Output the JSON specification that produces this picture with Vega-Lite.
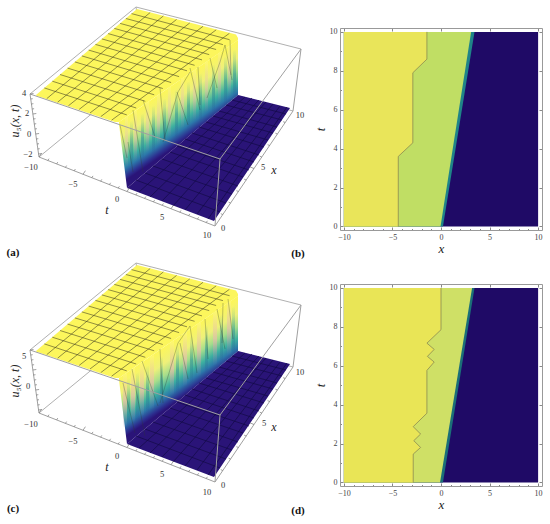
{
"$schema":"https://vega.github.io/schema/vega-lite/v6.json",
"padding":0,
"background":"white",
"config":{"view":{"stroke":null},"text":{"font":"Liberation Serif"},"axis":{"labelFont":"Liberation Serif","titleFont":"Liberation Serif"}},
"datasets":{
"boxBack":[{"x":30,"y":94,"x2":136,"y2":7},{"x":136,"y":7,"x2":301,"y2":49},{"x":39,"y":157,"x2":145,"y2":70},{"x":145,"y":70,"x2":293,"y2":111},{"x":136,"y":7,"x2":145,"y2":70}],
"boxFront":[{"x":30,"y":94,"x2":220,"y2":159},{"x":220,"y":159,"x2":301,"y2":49},{"x":220,"y":159,"x2":215,"y2":226},{"x":39,"y":157,"x2":215,"y2":226},{"x":215,"y":226,"x2":293,"y2":111},{"x":293,"y":111,"x2":301,"y2":49},{"x":30,"y":94,"x2":39,"y2":157}],
"ticks":[{"x":39,"y":157,"x2":41.4,"y2":153.4},{"x":47.8,"y":160.5,"x2":49,"y2":158.7},{"x":56.6,"y":163.9,"x2":57.8,"y2":162.1},{"x":65.4,"y":167.4,"x2":66.6,"y2":165.6},{"x":74.2,"y":170.8,"x2":75.4,"y2":169},{"x":83,"y":174.3,"x2":85.4,"y2":170.7},{"x":91.8,"y":177.7,"x2":93,"y2":175.9},{"x":100.6,"y":181.2,"x2":101.8,"y2":179.4},{"x":109.4,"y":184.6,"x2":110.6,"y2":182.8},{"x":118.2,"y":188.1,"x2":119.4,"y2":186.3},{"x":127,"y":191.5,"x2":129.4,"y2":187.9},{"x":135.8,"y":195,"x2":137,"y2":193.2},{"x":144.6,"y":198.4,"x2":145.8,"y2":196.6},{"x":153.4,"y":201.9,"x2":154.6,"y2":200.1},{"x":162.2,"y":205.3,"x2":163.4,"y2":203.5},{"x":171,"y":208.8,"x2":173.4,"y2":205.2},{"x":179.8,"y":212.2,"x2":181,"y2":210.4},{"x":188.6,"y":215.7,"x2":189.8,"y2":213.9},{"x":197.4,"y":219.1,"x2":198.6,"y2":217.3},{"x":206.2,"y":222.6,"x2":207.4,"y2":220.8},{"x":222.8,"y":214.5,"x2":220.8,"y2":213.7},{"x":230.6,"y":203,"x2":228.6,"y2":202.2},{"x":238.4,"y":191.5,"x2":236.4,"y2":190.7},{"x":246.2,"y":180,"x2":244.2,"y2":179.2},{"x":254,"y":168.5,"x2":250,"y2":166.9},{"x":261.8,"y":157,"x2":259.8,"y2":156.2},{"x":269.6,"y":145.5,"x2":267.6,"y2":144.7},{"x":277.4,"y":134,"x2":275.4,"y2":133.2},{"x":285.2,"y":122.5,"x2":283.2,"y2":121.7},{"x":30,"y":94,"x2":33.5,"y2":93.5},{"x":30.7,"y":99,"x2":32.7,"y2":98.7},{"x":31.4,"y":104,"x2":33.4,"y2":103.7},{"x":32.1,"y":109,"x2":34.1,"y2":108.7},{"x":32.8,"y":114,"x2":36.3,"y2":113.5},{"x":33.5,"y":119,"x2":35.5,"y2":118.7},{"x":34.2,"y":124,"x2":36.2,"y2":123.7},{"x":34.9,"y":129,"x2":36.9,"y2":128.7},{"x":35.6,"y":134,"x2":39.1,"y2":133.5},{"x":36.3,"y":139,"x2":38.3,"y2":138.7},{"x":37,"y":144,"x2":39,"y2":143.7},{"x":37.7,"y":149,"x2":39.7,"y2":148.7},{"x":38.4,"y":154,"x2":41.9,"y2":153.5}],
"top":[{"x":36,"y":95,"y2":95.5},{"x":115,"y":27.7,"y2":122},{"x":119,"y":24.3,"y2":122},{"x":137,"y":9,"y2":109.6},{"x":236,"y":34.5,"y2":41.4},{"x":238,"y":38,"y2":40}],
"floor":[{"x":127,"y":188,"y2":188},{"x":214,"y":115.1,"y2":221},{"x":238,"y":95,"y2":185.3},{"x":290,"y":108,"y2":108}],
"wall":[{"x":119,"y":122,"y2":124},{"x":127,"y":116.5,"y2":188},{"x":238,"y":40,"y2":95}],
"meshTop":[{"x":44.3,"y":87.9,"x2":126.8,"y2":114.9},{"x":52.3,"y":81.2,"x2":136.2,"y2":108},{"x":60,"y":74.5,"x2":145.3,"y2":101.3},{"x":67.6,"y":68.1,"x2":154.2,"y2":94.8},{"x":74.9,"y":61.9,"x2":162.8,"y2":88.5},{"x":81.9,"y":55.9,"x2":171.1,"y2":82.5},{"x":88.7,"y":50.1,"x2":179.1,"y2":76.6},{"x":95.4,"y":44.4,"x2":187,"y2":70.8},{"x":101.9,"y":38.9,"x2":194.6,"y2":65.3},{"x":108.1,"y":33.6,"x2":202,"y2":59.9},{"x":114.3,"y":28.4,"x2":209.2,"y2":54.6},{"x":120.1,"y":23.4,"x2":216.1,"y2":49.5},{"x":125.9,"y":18.5,"x2":222.9,"y2":44.6},{"x":131.5,"y":13.6,"x2":229.6,"y2":39.7},{"x":46.8,"y":98.6,"x2":150.2,"y2":12.5},{"x":57.6,"y":102.2,"x2":163.4,"y2":15.9},{"x":68.4,"y":105.8,"x2":176.6,"y2":19.4},{"x":79.2,"y":109.4,"x2":189.8,"y2":22.9},{"x":90,"y":113,"x2":203,"y2":26.3},{"x":100.8,"y":116.6,"x2":216.2,"y2":29.8},{"x":111.6,"y":120.2,"x2":229.4,"y2":33.3}],
"meshFloor":[{"x":136,"y":180,"x2":220,"y2":212},{"x":145,"y":173,"x2":226,"y2":203},{"x":153,"y":166,"x2":232,"y2":194},{"x":162,"y":159,"x2":238,"y2":186},{"x":170,"y":152,"x2":243,"y2":177},{"x":177,"y":146,"x2":249,"y2":170},{"x":185,"y":139,"x2":254,"y2":162},{"x":192,"y":133,"x2":259,"y2":155},{"x":199,"y":127,"x2":264,"y2":147},{"x":206,"y":122,"x2":268,"y2":140},{"x":213,"y":116,"x2":273,"y2":133},{"x":219,"y":111,"x2":277,"y2":127},{"x":226,"y":105,"x2":282,"y2":120},{"x":232,"y":100,"x2":286,"y2":114},{"x":139,"y":192,"x2":245,"y2":97},{"x":150,"y":197,"x2":252,"y2":98},{"x":162,"y":201,"x2":259,"y2":100},{"x":173,"y":206,"x2":266,"y2":102},{"x":185,"y":210,"x2":273,"y2":104},{"x":197,"y":214,"x2":280,"y2":106},{"x":208,"y":219,"x2":287,"y2":107}],
"paleA":[{"s":1,"x":125,"y":118,"y2":168},{"s":1,"x":128,"y":116,"y2":166},{"s":2,"x":134,"y":112,"y2":162},{"s":2,"x":137,"y":110,"y2":160},{"s":3,"x":146,"y":103,"y2":153},{"s":3,"x":149,"y":101,"y2":151},{"s":4,"x":157,"y":96,"y2":146},{"s":4,"x":160,"y":94,"y2":144},{"s":5,"x":168,"y":88,"y2":138},{"s":5,"x":171,"y":86,"y2":136},{"s":6,"x":181,"y":79,"y2":129},{"s":6,"x":184,"y":77,"y2":127},{"s":7,"x":193,"y":71,"y2":121},{"s":7,"x":196,"y":69,"y2":119},{"s":8,"x":205,"y":63,"y2":113},{"s":8,"x":208,"y":61,"y2":111},{"s":9,"x":218,"y":54,"y2":104},{"s":9,"x":221,"y":52,"y2":102},{"s":10,"x":228,"y":47,"y2":97},{"s":10,"x":231,"y":45,"y2":95}],
"darkA":[{"s":1,"x":130,"y":122,"y2":170},{"s":1,"x":133,"y":120,"y2":168},{"s":2,"x":141,"y":115,"y2":163},{"s":2,"x":144,"y":113,"y2":161},{"s":3,"x":152,"y":107,"y2":155},{"s":3,"x":155,"y":105,"y2":153},{"s":4,"x":163,"y":100,"y2":148},{"s":4,"x":166,"y":98,"y2":146},{"s":5,"x":175,"y":91,"y2":139},{"s":5,"x":178,"y":89,"y2":137},{"s":6,"x":187,"y":83,"y2":131},{"s":6,"x":190,"y":81,"y2":129},{"s":7,"x":199,"y":75,"y2":123},{"s":7,"x":202,"y":73,"y2":121},{"s":8,"x":212,"y":66,"y2":114},{"s":8,"x":215,"y":64,"y2":112},{"s":9,"x":224,"y":58,"y2":106},{"s":9,"x":227,"y":56,"y2":104},{"s":10,"x":233,"y":51,"y2":99},{"s":10,"x":236,"y":49,"y2":97}],
"paleC":[{"s":1,"x":123,"y":119,"y2":172},{"s":1,"x":127,"y":117,"y2":170},{"s":2,"x":131,"y":114,"y2":167},{"s":2,"x":135,"y":112,"y2":165},{"s":3,"x":140,"y":108,"y2":161},{"s":3,"x":144,"y":106,"y2":159},{"s":4,"x":150,"y":101,"y2":154},{"s":4,"x":154,"y":99,"y2":152},{"s":5,"x":170,"y":87,"y2":140},{"s":5,"x":174,"y":85,"y2":138},{"s":6,"x":183,"y":78,"y2":131},{"s":6,"x":187,"y":76,"y2":129},{"s":7,"x":197,"y":68,"y2":121},{"s":7,"x":201,"y":66,"y2":119},{"s":8,"x":213,"y":57,"y2":110},{"s":8,"x":217,"y":55,"y2":108},{"s":9,"x":227,"y":47,"y2":100},{"s":9,"x":231,"y":45,"y2":98}],
"darkC":[{"s":1,"x":127,"y":124,"y2":172},{"s":1,"x":130,"y":122,"y2":170},{"s":2,"x":136,"y":118,"y2":166},{"s":2,"x":139,"y":116,"y2":164},{"s":3,"x":146,"y":111,"y2":159},{"s":3,"x":149,"y":109,"y2":157},{"s":4,"x":160,"y":102,"y2":150},{"s":4,"x":163,"y":100,"y2":148},{"s":5,"x":176,"y":91,"y2":139},{"s":5,"x":179,"y":89,"y2":137},{"s":6,"x":190,"y":81,"y2":129},{"s":6,"x":193,"y":79,"y2":127},{"s":7,"x":205,"y":71,"y2":119},{"s":7,"x":208,"y":69,"y2":117},{"s":8,"x":220,"y":60,"y2":108},{"s":8,"x":223,"y":58,"y2":106},{"s":9,"x":232,"y":52,"y2":100},{"s":9,"x":235,"y":50,"y2":98}],
"linesA":[{"x":133,"y":110,"x2":143,"y2":172},{"x":128,"y":142,"x2":133,"y2":172},{"x":120,"y":125,"x2":127,"y2":158},{"x":143,"y":100,"x2":155,"y2":137},{"x":160,"y":88,"x2":165,"y2":140},{"x":163,"y":142,"x2":178,"y2":92},{"x":178,"y":92,"x2":190,"y2":72},{"x":177,"y":92,"x2":188,"y2":125},{"x":190,"y":68,"x2":200,"y2":110},{"x":198,"y":67,"x2":200,"y2":105},{"x":207,"y":98,"x2":220,"y2":62},{"x":220,"y":62,"x2":225,"y2":45},{"x":210,"y":58,"x2":217,"y2":88},{"x":225,"y":45,"x2":232,"y2":80},{"x":230,"y":40,"x2":231,"y2":75}],
"linesC":[{"x":132,"y":113,"x2":145,"y2":180},{"x":123,"y":127,"x2":135,"y2":177},{"x":142,"y":105,"x2":158,"y2":150},{"x":160,"y":93,"x2":163,"y2":147},{"x":160,"y":147,"x2":178,"y2":87},{"x":178,"y":87,"x2":190,"y2":70},{"x":180,"y":87,"x2":188,"y2":123},{"x":190,"y":70,"x2":197,"y2":117},{"x":205,"y":63,"x2":208,"y2":103},{"x":217,"y":53,"x2":225,"y2":93},{"x":223,"y":47,"x2":222,"y2":87},{"x":228,"y":43,"x2":233,"y2":83}],
"labA":[{"x":24,"y":93,"t":"4"},{"x":27,"y":113,"t":"2"},{"x":29,"y":134,"t":"0"},{"x":28,"y":154,"t":"−2"},{"x":31,"y":167,"t":"−10"},{"x":73,"y":184,"t":"−5"},{"x":117,"y":199,"t":"0"},{"x":162,"y":217,"t":"5"},{"x":207,"y":235,"t":"10"},{"x":223,"y":228,"t":"0"},{"x":263,"y":167,"t":"5"},{"x":300,"y":115,"t":"10"}],
"labC":[{"x":24,"y":100,"t":"5"},{"x":28,"y":130,"t":"0"},{"x":31,"y":168,"t":"−10"},{"x":73,"y":185,"t":"−5"},{"x":117,"y":200,"t":"0"},{"x":162,"y":218,"t":"5"},{"x":207,"y":236,"t":"10"},{"x":223,"y":229,"t":"0"},{"x":264,"y":167,"t":"5"},{"x":300,"y":116,"t":"10"}],
"vars":[{"x":107,"y":210,"t":"t"},{"x":274,"y":170,"t":"x"}],
"fullR":[{"t":0,"a":-10,"b":10},{"t":10,"a":-10,"b":10}],
"tealR":[{"t":0,"a":-10,"b":0.2},{"t":10,"a":-10,"b":3.45}],
"greenB":[{"t":0,"a":-10,"b":-0.05},{"t":10,"a":-10,"b":3.1}],
"greenD":[{"t":0,"a":-10,"b":-0.1},{"t":10,"a":-10,"b":3.2}],
"yellowB":[{"t":0,"a":-10,"b":-4.4},{"t":3.6,"a":-10,"b":-4.4},{"t":4.3,"a":-10,"b":-2.9},{"t":7.9,"a":-10,"b":-2.9},{"t":8.6,"a":-10,"b":-1.45},{"t":10,"a":-10,"b":-1.45}],
"yellowD":[{"t":0,"a":-10,"b":-2.86},{"t":1.46,"a":-10,"b":-2.86},{"t":1.8,"a":-10,"b":-2.1},{"t":2.15,"a":-10,"b":-2.8},{"t":2.49,"a":-10,"b":-2.1},{"t":2.87,"a":-10,"b":-2.86},{"t":3.56,"a":-10,"b":-1.45},{"t":5.76,"a":-10,"b":-1.45},{"t":6.19,"a":-10,"b":-0.7},{"t":6.48,"a":-10,"b":-1.4},{"t":6.84,"a":-10,"b":-0.7},{"t":7.16,"a":-10,"b":-1.45},{"t":7.85,"a":-10,"b":0},{"t":10,"a":-10,"b":0}]
},
"hconcat":[
{"vconcat":[
{"width":290,"height":262,
"encoding":{"x":{"field":"x","type":"quantitative","axis":null,"scale":{"domain":[0,290],"nice":false,"zero":false}},"y":{"field":"y","type":"quantitative","axis":null,"scale":{"domain":[262,0],"nice":false,"zero":false}}},
"layer":[
{"data":{"name":"boxBack"},"mark":{"type":"rule","color":"#b0b0b0","strokeWidth":1},"encoding":{"x2":{"field":"x2"},"y2":{"field":"y2"}}},
{"data":{"name":"top"},"mark":{"type":"area","orient":"vertical","color":"#fcf65c"},"encoding":{"y2":{"field":"y2"}}},
{"data":{"name":"floor"},"mark":{"type":"area","orient":"vertical","color":"#2a1478"},"encoding":{"y2":{"field":"y2"}}},
{"data":{"name":"wall"},"mark":{"type":"area","orient":"vertical","fill":{"gradient":"linear","x1":0,"y1":0.56,"x2":0.177,"y2":0.883,"stops":[{"offset":0,"color":"#fcf65c"},{"offset":0.25,"color":"#eef07a"},{"offset":0.45,"color":"#a5dd8c"},{"offset":0.65,"color":"#3db0a0"},{"offset":0.8,"color":"#2c78aa"},{"offset":0.93,"color":"#2c3090"},{"offset":1,"color":"#2a1478"}]}},"encoding":{"y2":{"field":"y2"}}},
{"data":{"name":"darkA"},"mark":{"type":"area","orient":"vertical","fill":{"gradient":"linear","x1":0,"y1":0,"x2":0,"y2":1,"stops":[{"offset":0,"color":"rgba(70,180,130,0)"},{"offset":0.5,"color":"rgba(30,140,150,0.5)"},{"offset":1,"color":"rgba(40,60,140,0)"}]}},"encoding":{"y2":{"field":"y2"},"detail":{"field":"s"}}},
{"data":{"name":"paleA"},"mark":{"type":"area","orient":"vertical","fill":{"gradient":"linear","x1":0,"y1":0,"x2":0,"y2":1,"stops":[{"offset":0,"color":"rgba(255,250,110,0.9)"},{"offset":0.5,"color":"rgba(225,205,160,0.7)"},{"offset":1,"color":"rgba(130,130,180,0)"}]}},"encoding":{"y2":{"field":"y2"},"detail":{"field":"s"}}},
{"data":{"name":"linesA"},"mark":{"type":"rule","color":"#2c3a30","strokeWidth":0.6,"opacity":0.5},"encoding":{"x2":{"field":"x2"},"y2":{"field":"y2"}}},
{"data":{"name":"meshTop"},"mark":{"type":"rule","color":"#3c3a20","strokeWidth":0.7,"opacity":0.8},"encoding":{"x2":{"field":"x2"},"y2":{"field":"y2"}}},
{"data":{"name":"meshFloor"},"mark":{"type":"rule","color":"#120a44","strokeWidth":0.8,"opacity":0.85},"encoding":{"x2":{"field":"x2"},"y2":{"field":"y2"}}},
{"data":{"name":"boxFront"},"mark":{"type":"rule","color":"#a0a0a0","strokeWidth":1},"encoding":{"x2":{"field":"x2"},"y2":{"field":"y2"}}},
{"data":{"name":"ticks"},"mark":{"type":"rule","color":"#777777","strokeWidth":0.7},"encoding":{"x2":{"field":"x2"},"y2":{"field":"y2"}}},
{"data":{"name":"labA"},"mark":{"type":"text","fontSize":8.5,"color":"#333333"},"encoding":{"text":{"field":"t"}}},
{"data":{"name":"vars"},"mark":{"type":"text","fontSize":12,"fontStyle":"italic","color":"#222222"},"encoding":{"text":{"field":"t"}}},
{"data":{"values":[{"x":15,"y":121,"t":"u₅(x, t)"}]},"mark":{"type":"text","fontSize":12,"fontStyle":"italic","angle":270,"color":"#222222"},"encoding":{"text":{"field":"t"}}},
{"data":{"values":[{"x":13,"y":253,"t":"(a)"},{"x":298,"y":254,"t":"(b)"}]},"mark":{"type":"text","fontSize":11,"fontWeight":"bold","color":"#111111"},"encoding":{"text":{"field":"t"}}}
]},
{"width":290,"height":262,
"encoding":{"x":{"field":"x","type":"quantitative","axis":null,"scale":{"domain":[0,290],"nice":false,"zero":false}},"y":{"field":"y","type":"quantitative","axis":null,"scale":{"domain":[269,7],"nice":false,"zero":false}}},
"layer":[
{"data":{"name":"boxBack"},"mark":{"type":"rule","color":"#b0b0b0","strokeWidth":1},"encoding":{"x2":{"field":"x2"},"y2":{"field":"y2"}}},
{"data":{"name":"top"},"mark":{"type":"area","orient":"vertical","color":"#fcf65c"},"encoding":{"y2":{"field":"y2"}}},
{"data":{"name":"floor"},"mark":{"type":"area","orient":"vertical","color":"#2a1478"},"encoding":{"y2":{"field":"y2"}}},
{"data":{"name":"wall"},"mark":{"type":"area","orient":"vertical","fill":{"gradient":"linear","x1":0,"y1":0.56,"x2":0.177,"y2":0.883,"stops":[{"offset":0,"color":"#fcf65c"},{"offset":0.25,"color":"#eef07a"},{"offset":0.45,"color":"#a5dd8c"},{"offset":0.65,"color":"#3db0a0"},{"offset":0.8,"color":"#2c78aa"},{"offset":0.93,"color":"#2c3090"},{"offset":1,"color":"#2a1478"}]}},"encoding":{"y2":{"field":"y2"}}},
{"data":{"name":"darkC"},"mark":{"type":"area","orient":"vertical","fill":{"gradient":"linear","x1":0,"y1":0,"x2":0,"y2":1,"stops":[{"offset":0,"color":"rgba(70,180,130,0)"},{"offset":0.5,"color":"rgba(30,140,150,0.5)"},{"offset":1,"color":"rgba(40,60,140,0)"}]}},"encoding":{"y2":{"field":"y2"},"detail":{"field":"s"}}},
{"data":{"name":"paleC"},"mark":{"type":"area","orient":"vertical","fill":{"gradient":"linear","x1":0,"y1":0,"x2":0,"y2":1,"stops":[{"offset":0,"color":"rgba(255,250,110,0.9)"},{"offset":0.5,"color":"rgba(225,195,165,0.8)"},{"offset":1,"color":"rgba(130,130,180,0)"}]}},"encoding":{"y2":{"field":"y2"},"detail":{"field":"s"}}},
{"data":{"name":"linesC"},"mark":{"type":"rule","color":"#2c3a30","strokeWidth":0.6,"opacity":0.5},"encoding":{"x2":{"field":"x2"},"y2":{"field":"y2"}}},
{"data":{"name":"meshTop"},"mark":{"type":"rule","color":"#3c3a20","strokeWidth":0.7,"opacity":0.8},"encoding":{"x2":{"field":"x2"},"y2":{"field":"y2"}}},
{"data":{"name":"meshFloor"},"mark":{"type":"rule","color":"#120a44","strokeWidth":0.8,"opacity":0.85},"encoding":{"x2":{"field":"x2"},"y2":{"field":"y2"}}},
{"data":{"name":"boxFront"},"mark":{"type":"rule","color":"#a0a0a0","strokeWidth":1},"encoding":{"x2":{"field":"x2"},"y2":{"field":"y2"}}},
{"data":{"name":"ticks"},"mark":{"type":"rule","color":"#777777","strokeWidth":0.7},"encoding":{"x2":{"field":"x2"},"y2":{"field":"y2"}}},
{"data":{"name":"labC"},"mark":{"type":"text","fontSize":8.5,"color":"#333333"},"encoding":{"text":{"field":"t"}}},
{"data":{"values":[{"x":107,"y":211,"t":"t"},{"x":274,"y":171,"t":"x"}]},"mark":{"type":"text","fontSize":12,"fontStyle":"italic","color":"#222222"},"encoding":{"text":{"field":"t"}}},
{"data":{"values":[{"x":15,"y":125,"t":"u₅(x, t)"}]},"mark":{"type":"text","fontSize":12,"fontStyle":"italic","angle":270,"color":"#222222"},"encoding":{"text":{"field":"t"}}},
{"data":{"values":[{"x":13,"y":253,"t":"(c)"},{"x":298,"y":255,"t":"(d)"}]},"mark":{"type":"text","fontSize":11,"fontWeight":"bold","color":"#111111"},"encoding":{"text":{"field":"t"}}}
]}
],"spacing":0},
{"vconcat":[
{"width":202,"height":27,"data":{"values":[{"a":1}]},"mark":{"type":"text","text":""},"encoding":{}},
{"width":202,"height":202,
"encoding":{"y":{"field":"t","type":"quantitative","axis":null,"scale":{"domain":[-0.18,10.2],"nice":false,"zero":false}},"x":{"field":"a","type":"quantitative","axis":null,"scale":{"domain":[-10.4,10.4],"nice":false,"zero":false}}},
"layer":[
{"data":{"name":"fullR"},"mark":{"type":"area","orient":"horizontal","color":"#1f0a66"},"encoding":{"x2":{"field":"b"}}},
{"data":{"name":"tealR"},"mark":{"type":"area","orient":"horizontal","color":"#1f8488"},"encoding":{"x2":{"field":"b"}}},
{"data":{"name":"greenB"},"mark":{"type":"area","orient":"horizontal","color":"#c0de64"},"encoding":{"x2":{"field":"b"}}},
{"data":{"name":"yellowB"},"mark":{"type":"area","orient":"horizontal","color":"#e9e55a"},"encoding":{"x2":{"field":"b"}}},
{"data":{"name":"yellowB"},"mark":{"type":"line","color":"#8c8a50","strokeWidth":0.8,"orient":"horizontal"},
"encoding":{"x":{"field":"b","type":"quantitative","title":"x","axis":{"orient":"bottom","values":[-10,-9,-8,-7,-6,-5,-4,-3,-2,-1,0,1,2,3,4,5,6,7,8,9,10],"labelExpr":"datum.value % 5 === 0 ? datum.label : ''","labelFontSize":8,"labelColor":"#444444","labelPadding":6,"domainColor":"#999999","tickColor":"#888888","tickSize":{"condition":{"test":"datum.value % 5 === 0","value":-3},"value":-1.5},"grid":false,"titleFontSize":13,"titleFontStyle":"italic","titleFontWeight":"normal","titleColor":"#222222","titlePadding":1}},
"y":{"field":"t","type":"quantitative","title":"t","axis":{"orient":"left","format":"d","values":[0,0.5,1,1.5,2,2.5,3,3.5,4,4.5,5,5.5,6,6.5,7,7.5,8,8.5,9,9.5,10],"labelExpr":"datum.value % 2 === 0 ? datum.label : ''","labelFontSize":8,"labelColor":"#444444","labelPadding":6,"domainColor":"#999999","tickColor":"#888888","tickSize":{"condition":{"test":"datum.value % 2 === 0","value":-3},"value":-1.5},"grid":false,"titleFontSize":13,"titleFontStyle":"italic","titleFontWeight":"normal","titleColor":"#222222","titlePadding":2}},"order":{"field":"t"}}},
{"data":{"name":"fullR"},"mark":{"type":"rule","opacity":0},
"encoding":{"x":{"field":"a","type":"quantitative","axis":{"orient":"top","values":[-10,-5,0,5,10],"labels":false,"domainColor":"#999999","tickColor":"#888888","tickSize":-3,"grid":false,"title":null}},
"y":{"field":"t","type":"quantitative","axis":{"orient":"right","values":[0,2,4,6,8,10],"labels":false,"domainColor":"#999999","tickColor":"#888888","tickSize":-3,"grid":false,"title":null}}}}
],"resolve":{"axis":{"x":"independent","y":"independent"}}},
{"width":202,"height":28,"data":{"values":[{"a":1}]},"mark":{"type":"text","text":""},"encoding":{}},
{"width":202,"height":202,
"encoding":{"y":{"field":"t","type":"quantitative","axis":null,"scale":{"domain":[-0.18,10.2],"nice":false,"zero":false}},"x":{"field":"a","type":"quantitative","axis":null,"scale":{"domain":[-10.4,10.4],"nice":false,"zero":false}}},
"layer":[
{"data":{"name":"fullR"},"mark":{"type":"area","orient":"horizontal","color":"#1f0a66"},"encoding":{"x2":{"field":"b"}}},
{"data":{"name":"tealR"},"mark":{"type":"area","orient":"horizontal","color":"#1b6f78"},"encoding":{"x2":{"field":"b"}}},
{"data":{"name":"greenD"},"mark":{"type":"area","orient":"horizontal","color":"#cfe066"},"encoding":{"x2":{"field":"b"}}},
{"data":{"name":"yellowD"},"mark":{"type":"area","orient":"horizontal","color":"#e9e556"},"encoding":{"x2":{"field":"b"}}},
{"data":{"name":"yellowD"},"mark":{"type":"line","color":"#8c8a50","strokeWidth":0.8,"orient":"horizontal"},
"encoding":{"x":{"field":"b","type":"quantitative","title":"x","axis":{"orient":"bottom","values":[-10,-9,-8,-7,-6,-5,-4,-3,-2,-1,0,1,2,3,4,5,6,7,8,9,10],"labelExpr":"datum.value % 5 === 0 ? datum.label : ''","labelFontSize":8,"labelColor":"#444444","labelPadding":6,"domainColor":"#999999","tickColor":"#888888","tickSize":{"condition":{"test":"datum.value % 5 === 0","value":-3},"value":-1.5},"grid":false,"titleFontSize":13,"titleFontStyle":"italic","titleFontWeight":"normal","titleColor":"#222222","titlePadding":1}},
"y":{"field":"t","type":"quantitative","title":"t","axis":{"orient":"left","format":"d","values":[0,0.5,1,1.5,2,2.5,3,3.5,4,4.5,5,5.5,6,6.5,7,7.5,8,8.5,9,9.5,10],"labelExpr":"datum.value % 2 === 0 ? datum.label : ''","labelFontSize":8,"labelColor":"#444444","labelPadding":6,"domainColor":"#999999","tickColor":"#888888","tickSize":{"condition":{"test":"datum.value % 2 === 0","value":-3},"value":-1.5},"grid":false,"titleFontSize":13,"titleFontStyle":"italic","titleFontWeight":"normal","titleColor":"#222222","titlePadding":2}},"order":{"field":"t"}}},
{"data":{"name":"fullR"},"mark":{"type":"rule","opacity":0},
"encoding":{"x":{"field":"a","type":"quantitative","axis":{"orient":"top","values":[-10,-5,0,5,10],"labels":false,"domainColor":"#999999","tickColor":"#888888","tickSize":-3,"grid":false,"title":null}},
"y":{"field":"t","type":"quantitative","axis":{"orient":"right","values":[0,2,4,6,8,10],"labels":false,"domainColor":"#999999","tickColor":"#888888","tickSize":-3,"grid":false,"title":null}}}}
],"resolve":{"axis":{"x":"independent","y":"independent"}}}
],"spacing":0}
],"spacing":9
}
